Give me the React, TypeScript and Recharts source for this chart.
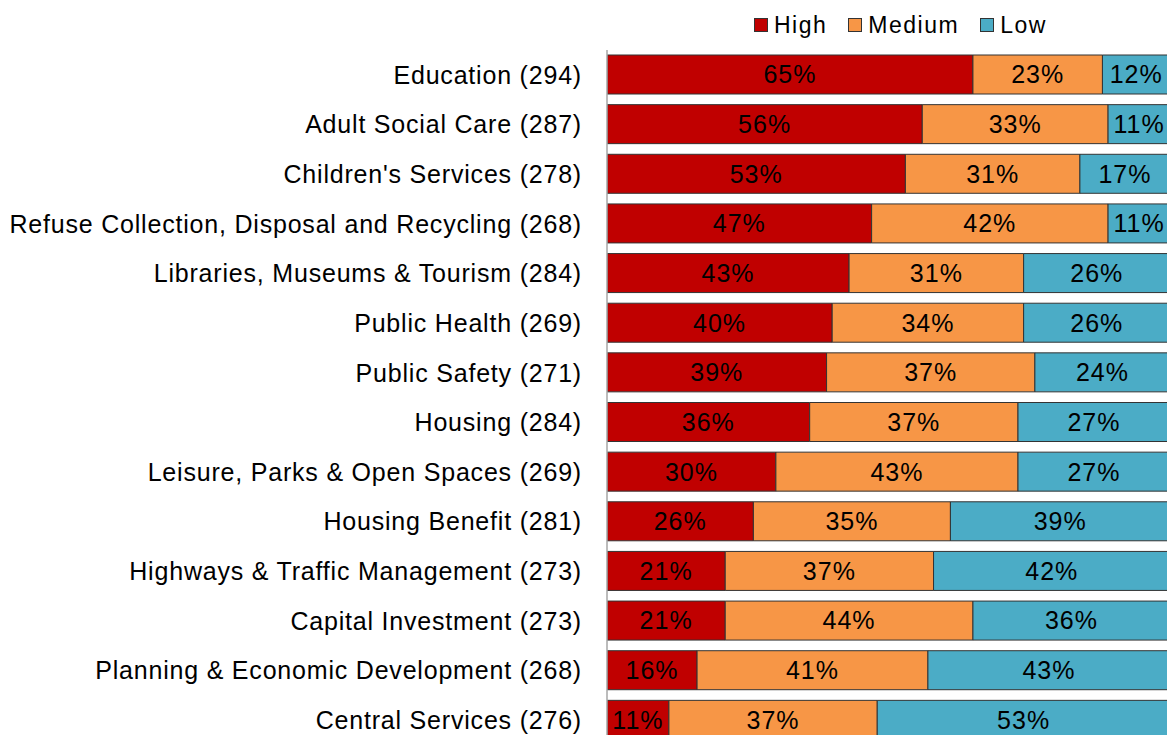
import { BarChart, Bar, XAxis, YAxis, Legend, LabelList } from 'recharts';

const categories = [
  'Education (294)',
  'Adult Social Care (287)',
  "Children's Services (278)",
  'Refuse Collection, Disposal and Recycling (268)',
  'Libraries, Museums & Tourism (284)',
  'Public Health (269)',
  'Public Safety (271)',
  'Housing (284)',
  'Leisure, Parks & Open Spaces (269)',
  'Housing Benefit (281)',
  'Highways & Traffic Management (273)',
  'Capital Investment (273)',
  'Planning & Economic Development (268)',
  'Central Services (276)',
];

const high = [65, 56, 53, 47, 43, 40, 39, 36, 30, 26, 21, 21, 16, 11];
const medium = [23, 33, 31, 42, 31, 34, 37, 37, 43, 35, 37, 44, 41, 37];
const low = [12, 11, 17, 11, 26, 26, 24, 27, 27, 39, 42, 36, 43, 53];

const series = [
  { key: 'high', name: 'High', color: '#C00000' },
  { key: 'medium', name: 'Medium', color: '#F79646' },
  { key: 'low', name: 'Low', color: '#4BACC6' },
];

const data = categories.map((name, i) => ({
  name,
  high: high[i],
  medium: medium[i],
  low: low[i],
}));

const FONT = 'Liberation Sans, Arial, sans-serif';

const LegendContent = () => (
  <div
    style={{
      display: 'flex',
      paddingLeft: 754,
      height: 28,
      fontFamily: FONT,
      fontSize: 23,
      letterSpacing: 1.5,
      color: '#000',
    }}
  >
    {series.map((s) => (
      <div key={s.key} style={{ display: 'flex', alignItems: 'center', marginRight: 21 }}>
        <span
          style={{
            display: 'inline-block',
            width: 12,
            height: 12,
            background: s.color,
            border: '1px solid #333',
            marginRight: 6,
          }}
        />
        <span>{s.name}</span>
      </div>
    ))}
  </div>
);

export default function App() {
  return (
    <div style={{ position: 'absolute', left: 0, top: 0, width: 1167, height: 735, overflow: 'hidden', background: '#fff' }}>
      <BarChart
        width={1170}
        height={745}
        data={data}
        layout="vertical"
        margin={{ top: 22, right: 0, left: 0, bottom: 0 }}
        barSize={39}
      >
        <XAxis type="number" domain={[0, 100]} hide allowDataOverflow />
        <YAxis
          type="category"
          dataKey="name"
          width={607}
          tickLine={false}
          tickSize={0}
          tickMargin={25}
          axisLine={{ stroke: '#A6A6A6', strokeWidth: 1.5 }}
          tick={{ fill: '#000', fontSize: 25, fontFamily: FONT, letterSpacing: 0.8 }}
          interval={0}
        />
        <Legend
          verticalAlign="top"
          content={<LegendContent />}
          wrapperStyle={{ top: 11, left: 0, width: 1170 }}
        />
        {series.map((s) => (
          <Bar
            key={s.key}
            dataKey={s.key}
            name={s.name}
            stackId="a"
            fill={s.color}
            stroke="#333"
            strokeWidth={1}
            isAnimationActive={false}
          >
            <LabelList
              dataKey={s.key}
              position="center"
              formatter={(v: number) => `${v}%`}
              style={{ fill: '#000', fontSize: 25, fontFamily: FONT, letterSpacing: 1 }}
            />
          </Bar>
        ))}
      </BarChart>
    </div>
  );
}
